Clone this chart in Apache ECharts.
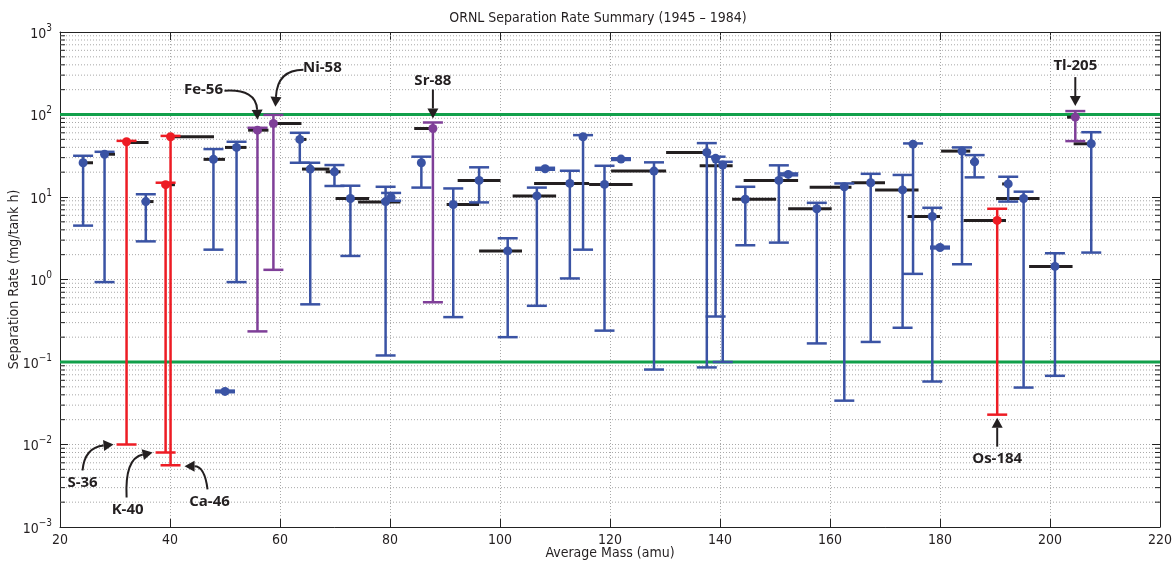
<!DOCTYPE html>
<html>
<head>
<meta charset="utf-8">
<script src="https://cdn.jsdelivr.net/npm/echarts@6/dist/echarts.min.js"></script>
<style>
  html, body { margin: 0; padding: 0; background: #fff; }
  #chart { width: 1174px; height: 565px; }
</style>
</head>
<body>
<div id="chart"></div>
<script>
// Average mass (amu) of each separated element
const masses = [24.2, 28.1, 32.1, 35.6, 39.2, 40.1, 47.9, 50.0, 52.1, 55.9,
                58.8, 63.6, 65.5, 69.9, 72.8, 79.2, 80.2, 85.7, 87.8, 91.5,
                96.2, 101.4, 106.7, 108.2, 112.7, 115.1, 119.0, 122.0, 128.0, 137.6,
                139.2, 140.5, 144.6, 150.7, 152.4, 157.6, 162.6, 167.4, 173.2, 175.1,
                178.6, 180.0, 184.0, 186.3, 190.4, 192.4, 195.2, 200.9, 204.6, 207.5];
// Typical separation rate (mg/tank h)
const rates = [26, 33, 46.7, 8.8, 14.1, 53.7, 28.6, 0.044, 39.9, 64.6,
               77.8, 49.9, 21.8, 20.2, 9.6, 8.8, 9.9, 26, 67.7, 8.1,
               15.9, 2.22, 10.3, 22, 14.6, 53.7, 14.2, 28.8, 20.6, 34.7,
               29.4, 24.4, 9.4, 15.9, 18.8, 7.2, 13.3, 14.9, 12.2, 43.7,
               5.8, 2.44, 36, 26.7, 5.2, 14.4, 9.6, 1.44, 92.8, 44.2];
// Highest and lowest rates reached over the period
const highs = [31.6, 35.3, 47.9, 10.8, 14.9, 55, 38.1, 0.045, 46.7, 69,
               99, 60, 26, 24.4, 13.7, 13.3, 11.2, 30.8, 80, 12.7,
               22.9, 3.16, 13, 22.6, 20.8, 56.2, 23.9, 29.5, 26.3, 45,
               30.8, 26.7, 13.3, 24.2, 19.3, 8.5, 14.6, 19.1, 18.5, 44.6,
               7.4, 2.5, 39.9, 32.2, 7.2, 17.6, 11.6, 2.08, 110, 61];
const lows = [4.5, 0.93, 0.01, 2.9, 0.008, 0.0056, 2.3, 0.043, 0.93, 0.235,
              1.31, 26, 0.5, 13.6, 1.93, 0.12, 9.0, 13, 0.53, 0.35,
              8.6, 0.2, 0.48, 21.4, 1.03, 2.3, 0.24, 28.1, 0.081, 0.086,
              0.356, 0.1, 2.6, 2.8, 18.3, 0.168, 0.034, 0.175, 0.26, 1.17,
              0.058, 2.38, 1.53, 17.3, 0.023, 8.8, 0.049, 0.068, 47.6, 2.12];
// Colour group of each element: b = regular, r = very low minimum, p = very high maximum
const groups = ['b', 'b', 'r', 'b', 'r', 'r', 'b', 'b', 'b', 'p',
                'p', 'b', 'b', 'b', 'b', 'b', 'b', 'b', 'p', 'b',
                'b', 'b', 'b', 'b', 'b', 'b', 'b', 'b', 'b', 'b',
                'b', 'b', 'b', 'b', 'b', 'b', 'b', 'b', 'b', 'b',
                'b', 'b', 'b', 'b', 'r', 'b', 'b', 'b', 'p', 'b'];

// Isotope mass ranges (black bars): start mass, end mass, rate
const rangeStart = [24.5, 28.2, 32.1, 35.8, 39.2, 40.1, 46.1, 50.0, 54.2, 58.8,
                    63.3, 64.0, 68.3, 70.1, 74.2, 84.4, 90.3, 92.3, 96.2, 102.3,
                    106.2, 116.2, 120.2, 130.2, 136.3, 142.2, 144.3, 152.4, 156.3, 163.9,
                    168.2, 174.1, 180.2, 185.5, 184.3, 191.3, 190.2, 196.2, 203.1, 204.3];
const rangeEnd = [26.0, 30.0, 36.1, 37.0, 40.9, 48.0, 50.0, 53.9, 57.9, 63.9,
                  64.8, 69.0, 71.0, 76.2, 81.9, 87.7, 96.2, 100.1, 104.0, 110.2,
                  116.2, 124.1, 130.2, 137.2, 142.3, 150.2, 154.2, 160.3, 163.9, 170.0,
                  176.1, 180.0, 185.5, 186.3, 192.0, 192.3, 198.1, 204.1, 204.6, 207.5];
const rangeRate = [26, 33, 45.8, 8.8, 14.1, 53.7, 28.6, 39.9, 64.6, 77.8,
                   49.9, 21.8, 20.2, 9.6, 8.7, 67.7, 8.1, 15.9, 2.22, 10.3,
                   14.6, 14.2, 20.6, 34.7, 23.9, 9.4, 15.9, 7.2, 13.1, 14.9,
                   12.2, 5.8, 36, 26.7, 5.2, 14.4, 9.6, 1.44, 92.8, 44.2];

// Reference limits (green lines)
const limits = [100, 0.1];

// Axis ranges and tick labels
const xMin = 20, xMax = 220, xStep = 20;
const yMin = 0.001, yMax = 1000;

// Labelled elements: which bar, which end of it
const callouts = [
  { label: 'S-36',   idx: 2,  end: 'low'  },
  { label: 'K-40',   idx: 4,  end: 'low'  },
  { label: 'Ca-46',  idx: 5,  end: 'low'  },
  { label: 'Fe-56',  idx: 9,  end: 'high' },
  { label: 'Ni-58',  idx: 10, end: 'high' },
  { label: 'Sr-88',  idx: 18, end: 'high' },
  { label: 'Tl-205', idx: 48, end: 'high' },
  { label: 'Os-184', idx: 44, end: 'low'  }
];

// Callout geometry in pixels relative to the bar end: arrow start, curve control, tip, text centre
const calloutLayout = {
  'S-36':   { s: [-44, 26], c: [-42, 3],   t: [-13, 0], txt: [-44, 38] },
  'K-40':   { s: [-39, 45], c: [-41, 6],   t: [-13, 0], txt: [-38, 57] },
  'Ca-46':  { s: [37, 24],  c: [34, 1],    t: [14, 1],  txt: [39, 36] },
  'Fe-56':  { s: [-33, -37], c: [-1, -39], t: [0, -8],  txt: [-54, -38] },
  'Ni-58':  { s: [30, -45], c: [4, -45],   t: [2, -8],  txt: [49, -47] },
  'Sr-88':  { s: [0, -33],  c: [0, -18],   t: [0, -4],  txt: [0, -42] },
  'Tl-205': { s: [0, -34],  c: [0, -19],   t: [0, -5],  txt: [0, -45] },
  'Os-184': { s: [0, 32],   c: [0, 17],    t: [0, 3],   txt: [0, 44] }
};

const palette = { b: '#3a53a4', r: '#ed1c24', p: '#7f3f98' };
const FONT = "'Liberation Sans Narrow', 'DejaVu Sans Condensed', 'Noto Sans', sans-serif";
const GRID_COLOR = '#a8a8a8';

// minor gridline values 2..9 x 10^k
const minorValues = [];
for (let k = -3; k < 3; k++) {
  for (let m = 2; m <= 9; m++) minorValues.push(m * Math.pow(10, k));
}

function supLabel(v) {
  const e = Math.round(Math.log10(v));
  return '{b|10}{e|' + (e < 0 ? '\u2212' + (-e) : e) + '}';
}

function renderMinor(params, api) {
  const cs = params.coordSys;
  const y = api.coord([xMin, api.value(0)])[1];
  const x0 = cs.x, x1 = cs.x + cs.width;
  return {
    type: 'group',
    children: [
      { type: 'line', shape: { x1: x0, y1: y, x2: x1, y2: y },
        style: { stroke: GRID_COLOR, lineWidth: 1, lineDash: [1, 2] } },
      { type: 'line', shape: { x1: x0, y1: y, x2: x0 + 5, y2: y },
        style: { stroke: '#222', lineWidth: 1 } },
      { type: 'line', shape: { x1: x1 - 5, y1: y, x2: x1, y2: y },
        style: { stroke: '#222', lineWidth: 1 } }
    ]
  };
}

function renderLimit(params, api) {
  const cs = params.coordSys;
  const y = api.coord([xMin, api.value(0)])[1];
  return { type: 'line', shape: { x1: cs.x, y1: y, x2: cs.x + cs.width, y2: y },
           style: { stroke: '#12a04b', lineWidth: 3 } };
}

function renderRange(params, api) {
  const a = api.coord([api.value(0), api.value(2)]);
  const b = api.coord([api.value(1), api.value(2)]);
  return { type: 'line', shape: { x1: a[0], y1: a[1], x2: b[0], y2: b[1] },
           style: { stroke: '#231f20', lineWidth: 3 } };
}

function renderErrorBar(params, api) {
  const x = api.value(0);
  const hi = api.coord([x, api.value(1)]);
  const lo = api.coord([x, api.value(2)]);
  const color = palette[groups[params.dataIndex]];
  const hw = 10;
  const st = { stroke: color, lineWidth: 2.5, fill: null };
  return {
    type: 'group',
    children: [
      { type: 'line', shape: { x1: hi[0], y1: hi[1], x2: lo[0], y2: lo[1] }, style: st },
      { type: 'line', shape: { x1: hi[0] - hw, y1: hi[1], x2: hi[0] + hw, y2: hi[1] }, style: st },
      { type: 'line', shape: { x1: lo[0] - hw, y1: lo[1], x2: lo[0] + hw, y2: lo[1] }, style: st }
    ]
  };
}

function renderCallout(params, api) {
  const c = callouts[params.dataIndex];
  const L = calloutLayout[c.label];
  const p = api.coord([api.value(0), api.value(1)]);
  const S = [p[0] + L.s[0], p[1] + L.s[1]];
  const C = [p[0] + L.c[0], p[1] + L.c[1]];
  const T = [p[0] + L.t[0], p[1] + L.t[1]];
  let dx = T[0] - C[0], dy = T[1] - C[1];
  const len = Math.hypot(dx, dy) || 1;
  dx /= len; dy /= len;
  const headLen = 10, headHalf = 5.5;
  const B = [T[0] - dx * headLen, T[1] - dy * headLen];
  const nx = -dy, ny = dx;
  return {
    type: 'group',
    children: [
      { type: 'bezierCurve',
        shape: { x1: S[0], y1: S[1], x2: B[0], y2: B[1], cpx1: C[0], cpy1: C[1] },
        style: { stroke: '#231f20', lineWidth: 2, fill: null } },
      { type: 'polygon',
        shape: { points: [T, [B[0] + nx * headHalf, B[1] + ny * headHalf], [B[0] - nx * headHalf, B[1] - ny * headHalf]] },
        style: { fill: '#231f20' } },
      { type: 'text',
        style: { x: p[0] + L.txt[0], y: p[1] + L.txt[1], text: c.label,
                 fill: '#231f20', font: "bold 15px 'Open Sans', 'Noto Sans', sans-serif",
                 align: 'center', verticalAlign: 'middle' } }
    ]
  };
}

const axisLineStyle = { show: true, lineStyle: { color: '#222', width: 1 } };
const splitDotted = { show: true, lineStyle: { color: GRID_COLOR, width: 1, type: [1, 2] } };

const chart = echarts.init(document.getElementById('chart'));
chart.setOption({
  animation: false,
  backgroundColor: '#fff',
  title: {
    text: 'ORNL Separation Rate Summary (1945 \u2013 1984)',
    left: 593, top: 6, textAlign: 'center',
    textStyle: { fontFamily: FONT, fontSize: 14, fontWeight: 'normal', color: '#231f20' }
  },
  grid: { left: 60, right: 14, top: 32, bottom: 38, containLabel: false, outerBoundsMode: 'none' },
  xAxis: [
    {
      type: 'value', min: xMin, max: xMax, interval: xStep, position: 'bottom',
      name: 'Average Mass (amu)', nameLocation: 'middle', nameGap: 19, nameMoveOverlap: false,
      nameTextStyle: { fontFamily: FONT, fontSize: 14, color: '#231f20' },
      axisLine: axisLineStyle,
      axisTick: { show: true, inside: true, length: 8, lineStyle: { color: '#222' } },
      axisLabel: { fontFamily: FONT, fontSize: 14, color: '#231f20', margin: 6 },
      splitLine: splitDotted
    },
    {
      type: 'value', min: xMin, max: xMax, interval: xStep, position: 'top',
      axisLine: axisLineStyle,
      axisTick: { show: true, inside: true, length: 8, lineStyle: { color: '#222' } },
      axisLabel: { show: false }, splitLine: { show: false }
    }
  ],
  yAxis: [
    {
      type: 'log', logBase: 10, min: yMin, max: yMax, position: 'left',
      name: 'Separation Rate (mg/tank h)', nameLocation: 'middle', nameGap: 39, nameMoveOverlap: false,
      nameTextStyle: { fontFamily: FONT, fontSize: 14, color: '#231f20' },
      axisLine: axisLineStyle,
      axisTick: { show: true, inside: true, length: 8, lineStyle: { color: '#222' } },
      axisLabel: {
        margin: 8, formatter: supLabel,
        rich: {
          b: { fontFamily: FONT, fontSize: 14, color: '#231f20', lineHeight: 18, verticalAlign: 'bottom' },
          e: { fontFamily: FONT, fontSize: 10, color: '#231f20', lineHeight: 10, verticalAlign: 'top' }
        }
      },
      splitLine: splitDotted
    },
    {
      type: 'log', logBase: 10, min: yMin, max: yMax, position: 'right',
      axisLine: axisLineStyle,
      axisTick: { show: true, inside: true, length: 8, lineStyle: { color: '#222' } },
      axisLabel: { show: false }, splitLine: { show: false }
    }
  ],
  series: [
    {
      type: 'custom', name: 'minor grid', silent: true, z: 1,
      renderItem: renderMinor,
      data: minorValues.map(v => [v]),
      encode: { y: 0 }
    },
    {
      type: 'custom', name: 'limits', silent: true, z: 2,
      renderItem: renderLimit,
      data: limits.map(v => [v]),
      encode: { y: 0 }
    },
    {
      type: 'custom', name: 'mass range', silent: true, z: 3,
      renderItem: renderRange,
      data: rangeStart.map((s, i) => [s, rangeEnd[i], rangeRate[i]]),
      encode: { x: [0, 1], y: 2 }
    },
    {
      type: 'custom', name: 'rate range', silent: true, z: 4,
      renderItem: renderErrorBar,
      data: masses.map((m, i) => [m, highs[i], lows[i]]),
      encode: { x: 0, y: [1, 2] }
    },
    {
      type: 'scatter', name: 'rate', silent: true, z: 5,
      symbol: 'circle', symbolSize: 9,
      itemStyle: { color: p => palette[groups[p.dataIndex]], opacity: 1 },
      data: masses.map((m, i) => [m, rates[i]])
    },
    {
      type: 'custom', name: 'callouts', silent: true, z: 6,
      renderItem: renderCallout,
      data: callouts.map(c => [masses[c.idx], c.end === 'low' ? lows[c.idx] : highs[c.idx]]),
      encode: { x: 0, y: 1 }
    }
  ]
});
</script>
</body>
</html>
